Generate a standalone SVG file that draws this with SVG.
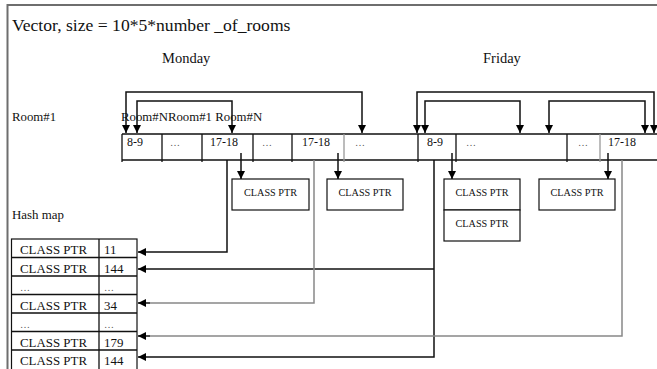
<svg xmlns="http://www.w3.org/2000/svg" width="657" height="369" viewBox="0 0 657 369">
<style>
text{font-family:"Liberation Serif","Times New Roman",serif;fill:#111}
.t17{font-size:17.6px}
.day{font-size:14.5px}
.room{font-size:12.8px}
.cell{font-size:12px}
.dots{font-size:10px;fill:#555}
.hm{font-size:12.9px}
.box{font-size:10.2px}
.ln{stroke:#111;stroke-width:1.3;fill:none}
.gr{stroke:#999;stroke-width:1.3;fill:none}
.bx{fill:#fff;stroke:#111;stroke-width:1.2}
.ar{stroke:#111;stroke-width:1.5;fill:none}
.arg{stroke:#888;stroke-width:1.5;fill:none}
</style>
<defs>
<marker id="ah" viewBox="0 0 10 10" refX="10" refY="5" markerWidth="10" markerHeight="8" markerUnits="userSpaceOnUse" orient="auto-start-reverse">
<path d="M0,0 L10,5 L0,10 z" fill="#000"/>
</marker>
</defs>
<rect width="657" height="369" fill="#fff"/>
<path d="M7.5,369 V5 H657" stroke="#6e6e6e" stroke-width="2" fill="none"/>

<g id="title"><text class="t17" x="12" y="31">Vector, size = 10*5*number _of_rooms</text></g>
<g id="monday"><text class="day" x="162" y="63">Monday</text></g>
<g id="friday"><text class="day" x="483" y="63">Friday</text></g>
<g id="room1"><text class="room" x="12" y="121">Room#1</text></g>
<g id="roomlabels"><text class="room" x="121" y="121">Room#NRoom#1 Room#N</text></g>
<g id="hashmap-label"><text class="hm" x="12" y="219">Hash map</text></g>

<g id="timeline">
<path class="ln" d="M122,134 H657 M122,160 H657"/>
<path class="ln" d="M122,134 V162 M162,134 V162 M202,134 V162 M253,134 V162 M292,134 V162 M418,134 V162 M456,134 V162 M567,134 V162"/>
<path class="gr" d="M344,134 V162 M600,134 V162"/>
<text class="cell" x="127" y="146">8-9</text>
<text class="dots" x="170" y="146">…</text>
<text class="cell" x="210" y="146">17-18</text>
<text class="dots" x="262" y="146">…</text>
<text class="cell" x="302" y="146">17-18</text>
<text class="dots" x="355" y="146">…</text>
<text class="cell" x="427" y="146">8-9</text>
<text class="dots" x="466" y="146">…</text>
<text class="dots" x="578" y="146">…</text>
<text class="cell" x="608" y="146">17-18</text>
</g>

<g id="cp1"><rect class="bx" x="232" y="179" width="77" height="31"/><text class="box" x="270.5" y="196" text-anchor="middle">CLASS PTR</text></g>
<g id="cp2"><rect class="bx" x="327" y="179" width="76" height="31"/><text class="box" x="365" y="196" text-anchor="middle">CLASS PTR</text></g>
<g id="cp3"><rect class="bx" x="444" y="179" width="76" height="31"/><text class="box" x="482" y="196" text-anchor="middle">CLASS PTR</text>
<rect class="bx" x="444" y="210" width="76" height="31"/><text class="box" x="482" y="227" text-anchor="middle">CLASS PTR</text></g>
<g id="cp4"><rect class="bx" x="539" y="179" width="76" height="31"/><text class="box" x="577" y="196" text-anchor="middle">CLASS PTR</text></g>

<g id="hashmap">
<rect x="11.5" y="239" width="125.5" height="132" fill="#fff" stroke="#111" stroke-width="1.2"/>
<path class="ln" d="M99,239 V371 M11.5,257.5 H137 M11.5,276 H137 M11.5,294.5 H137 M11.5,313 H137 M11.5,331.5 H137 M11.5,350 H137"/>
<text class="hm" x="20" y="254">CLASS PTR</text><text class="hm" x="104" y="254">11</text>
<text class="hm" x="20" y="272.5">CLASS PTR</text><text class="hm" x="104" y="272.5">144</text>
<text class="dots" x="20" y="291">…</text><text class="dots" x="104" y="291">…</text>
<text class="hm" x="20" y="309.5">CLASS PTR</text><text class="hm" x="104" y="309.5">34</text>
<text class="dots" x="20" y="328">…</text><text class="dots" x="104" y="328">…</text>
<text class="hm" x="20" y="346.5">CLASS PTR</text><text class="hm" x="104" y="346.5">179</text>
<text class="hm" x="20" y="365">CLASS PTR</text><text class="hm" x="104" y="365">144</text>
</g>

<g id="connectors">
<path class="ar" d="M126,133 V92 H362 V133" marker-start="url(#ah)" marker-end="url(#ah)"/>
<path class="ar" d="M137,133 V101 H232 V133" marker-start="url(#ah)" marker-end="url(#ah)"/>
<path class="ar" d="M417,133 V92 H654 V133" marker-start="url(#ah)" marker-end="url(#ah)"/>
<path class="ar" d="M425,133 V101 H520 V133" marker-start="url(#ah)" marker-end="url(#ah)"/>
<path class="ar" d="M549,133 V101 H645 V133" marker-start="url(#ah)" marker-end="url(#ah)"/>
<path class="ar" d="M241,153 V179" marker-end="url(#ah)"/>
<path class="ar" d="M338,153 V179" marker-end="url(#ah)"/>
<path class="ar" d="M452,153 V179" marker-end="url(#ah)"/>
<path class="ar" d="M608,153 V179" marker-end="url(#ah)"/>
<path class="ar" d="M227,160 V252 H138" marker-end="url(#ah)"/>
<path class="ar" d="M434,160 V357 H138" marker-end="url(#ah)"/>
<path class="ar" d="M434,269 H138" marker-end="url(#ah)"/>
<path class="arg" d="M314,160 V303 H150"/>
<path class="ar" d="M150,303 H138" marker-end="url(#ah)"/>
<path class="arg" d="M622,160 V336 H150"/>
<path class="ar" d="M150,336 H138" marker-end="url(#ah)"/>
</g>
</svg>
